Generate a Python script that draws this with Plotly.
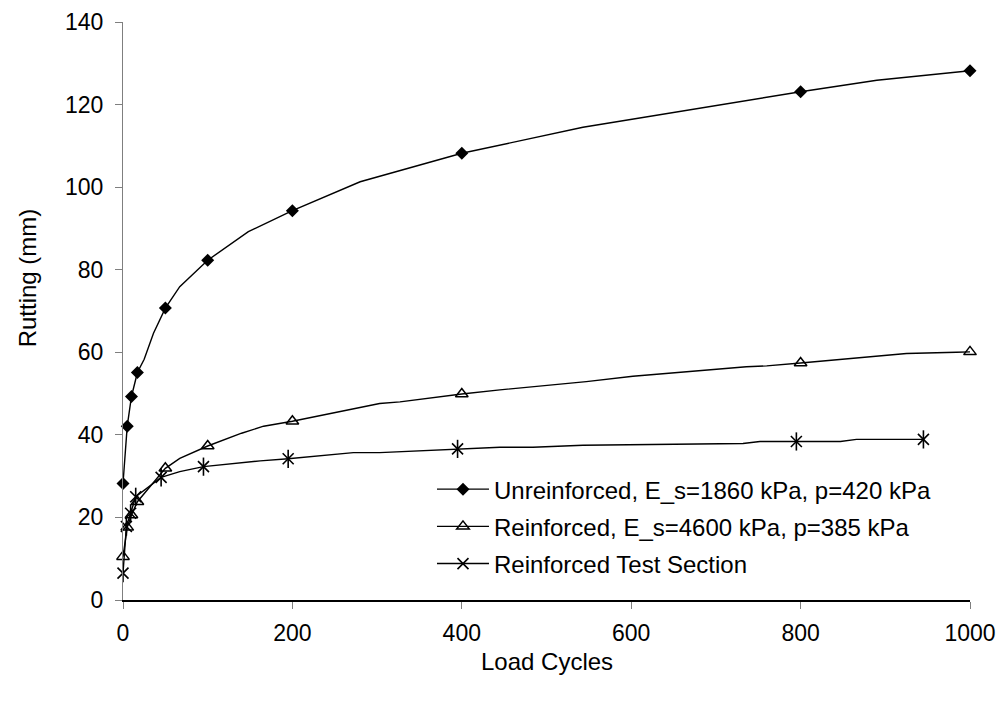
import plotly.graph_objects as go

# ---- data ----
# Unreinforced, E_s=1860 kPa, p=420 kPa
unr_x_mk = [0, 5, 10, 17, 50, 100, 200, 400, 800, 1000]
unr_y_mk = [28.2, 42.1, 49.3, 55.1, 70.7, 82.3, 94.3, 108.2, 123.1, 128.2]
unr_x_ln = [25, 36, 67, 148, 280, 445, 543, 890]
unr_y_ln = [58.3, 64.6, 75.9, 89.2, 101.3, 110.2, 114.5, 125.9]

# Reinforced, E_s=4600 kPa, p=385 kPa
rei_x_mk = [0, 5, 10, 17, 50, 100, 200, 400, 800, 1000]
rei_y_mk = [10.5, 17.6, 20.6, 23.8, 31.9, 37.3, 43.3, 49.9, 57.4, 60.1]
rei_x_ln = [67, 140, 166, 303, 327, 445, 547, 602, 736, 760, 925, 984]
rei_y_ln = [34.3, 40.4, 42.1, 47.6, 48.0, 50.9, 52.9, 54.2, 56.5, 56.7, 59.7, 60.0]

# Reinforced Test Section
tst_x_mk = [0, 4, 9, 15, 45, 95, 195, 395, 795, 945]
tst_y_mk = [6.5, 17.8, 21.0, 25.0, 29.7, 32.3, 34.2, 36.6, 38.4, 38.9]
tst_x_ln = [67, 162, 272, 303, 366, 445, 484, 543, 732, 752, 847, 866]
tst_y_ln = [31.1, 33.7, 35.7, 35.7, 36.3, 37.0, 37.0, 37.5, 37.9, 38.4, 38.4, 38.9]

names = ["Unreinforced, E_s=1860 kPa, p=420 kPa",
         "Reinforced, E_s=4600 kPa, p=385 kPa",
         "Reinforced Test Section"]

x_ticks = [0, 200, 400, 600, 800, 1000]
y_ticks = [0, 20, 40, 60, 80, 100, 120, 140]


def merge(xm, ym, xl, yl):
    pts = [(x, y) for x, y in zip(xm, ym)] + [(x, y) for x, y in zip(xl, yl)]
    pts.sort(key=lambda p: p[0])
    return [p[0] for p in pts], [p[1] for p in pts]


FONT = "Liberation Sans, Arial, sans-serif"
LW = 1.4
fig = go.Figure()

markers = [
    dict(symbol="diamond", size=10, color="black", line=dict(width=0)),
    dict(symbol="triangle-up-open", size=11, color="black", line=dict(width=1.5, color="black")),
    dict(symbol="x-thin-open", size=11, color="black", line=dict(width=1.6, color="black")),
]
series = [
    (unr_x_mk, unr_y_mk, unr_x_ln, unr_y_ln),
    (rei_x_mk, rei_y_mk, rei_x_ln, rei_y_ln),
    (tst_x_mk, tst_y_mk, tst_x_ln, tst_y_ln),
]

for i, (xm, ym, xl, yl) in enumerate(series):
    xs, ys = merge(xm, ym, xl, yl)
    # the curve
    fig.add_trace(go.Scatter(x=xs, y=ys, mode="lines", showlegend=False,
                             line=dict(color="black", width=LW), cliponaxis=False))
    # the markers
    fig.add_trace(go.Scatter(x=xm, y=ym, mode="markers", showlegend=False,
                             marker=markers[i], cliponaxis=False))
    # legend entry
    fig.add_trace(go.Scatter(x=[None], y=[None], mode="lines+markers", name=names[i],
                             line=dict(color="black", width=LW), marker=markers[i],
                             legendgroup=f"g{i}"))

# vertical stroke completing the asterisk markers of the test section
fig.add_trace(go.Scatter(
    x=tst_x_mk, y=tst_y_mk, mode="markers", showlegend=False,
    marker=dict(symbol="line-ns-open", size=13, color="black",
                line=dict(width=1.6, color="black")),
    cliponaxis=False,
))

fig.update_layout(
    width=1001, height=702,
    margin=dict(l=123, r=31, t=22, b=102, autoexpand=False),
    paper_bgcolor="white", plot_bgcolor="white",
    font=dict(family=FONT, size=23, color="black"),
    showlegend=True,
    legend=dict(
        x=0.3648, y=0.23, xanchor="left", yanchor="top",
        bgcolor="rgba(0,0,0,0)", font=dict(size=24, family=FONT),
        traceorder="grouped", tracegroupgap=3,
        itemwidth=52,
    ),
    xaxis=dict(
        range=[0, 1000], tickvals=x_ticks, ticktext=[str(v) for v in x_ticks],
        showgrid=False, zeroline=False, showline=True, linecolor="black", linewidth=1.5,
        ticks="outside", ticklen=7, tickcolor="#7f7f7f", tickwidth=1,
        tickfont=dict(size=23), ticklabelstandoff=5, automargin=False,
    ),
    yaxis=dict(
        range=[0, 140], tickvals=y_ticks, ticktext=[str(v) for v in y_ticks],
        showgrid=False, zeroline=False, showline=True, linecolor="#7f7f7f", linewidth=1.2,
        ticks="outside", ticklen=7, tickcolor="#7f7f7f", tickwidth=1,
        tickfont=dict(size=23), ticklabelstandoff=7, automargin=False,
    ),
    annotations=[
        dict(text="Load Cycles", xref="paper", yref="paper", x=0.5, y=-0.107,
             xanchor="center", yanchor="middle", showarrow=False, font=dict(size=24)),
        dict(text="Rutting (mm)", xref="paper", yref="paper", x=-0.113, y=0.557,
             xanchor="center", yanchor="middle", textangle=-90, showarrow=False,
             font=dict(size=24)),
    ],
)

fig.write_html("out.html")
